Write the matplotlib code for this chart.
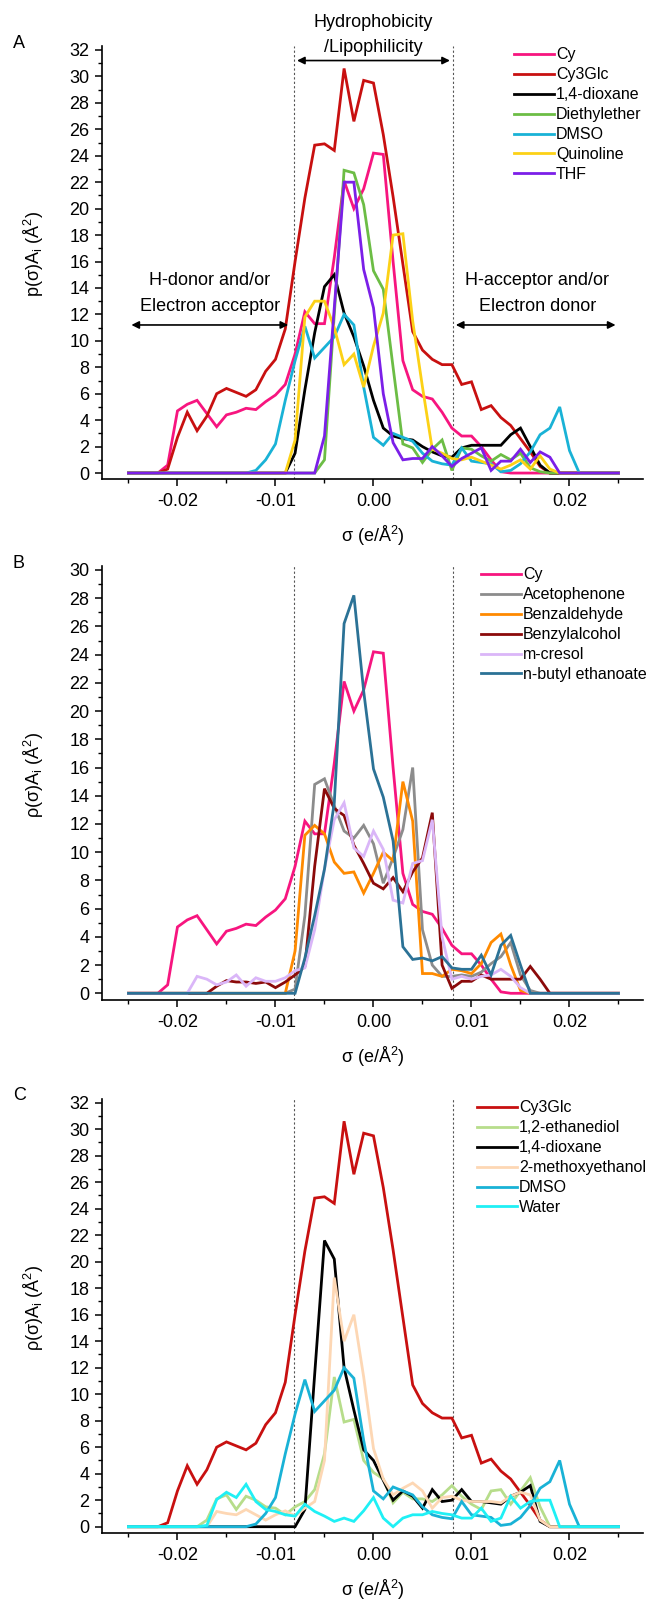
import numpy as np
import matplotlib
matplotlib.use('Agg')
import matplotlib.pyplot as plt
from matplotlib.ticker import MultipleLocator, FormatStrFormatter

plt.rcParams['font.family'] = ['Liberation Sans', 'DejaVu Sans']
plt.rcParams['axes.unicode_minus'] = False

# sigma grid, e/A^2, one point every 0.001
sigma = np.round(np.linspace(-0.025, 0.025, 51), 3)

# sigma profiles, p(sigma)*A_i in A^2
cy = [0, 0, 0, 0, 0.6, 4.7, 5.2, 5.5, 4.5, 3.5, 4.4, 4.6, 4.9, 4.8, 5.4, 5.9, 6.7, 9.0,
      12.2, 11.3, 11.3, 16.3, 22.1, 20.0, 21.5, 24.2, 24.1, 16.0, 8.5, 6.3, 5.8, 5.6, 4.6,
      3.4, 2.8, 2.8, 2.0, 1.0, 0.1, 0, 0, 0, 0, 0, 0, 0, 0, 0, 0, 0, 0]
cy3glc = [0, 0, 0, 0, 0.3, 2.7, 4.6, 3.2, 4.3, 6.0, 6.4, 6.1, 5.8, 6.3, 7.7, 8.6, 10.9,
          16.0, 20.8, 24.8, 24.9, 24.4, 30.6, 26.6, 29.7, 29.5, 25.6, 20.9, 15.8, 10.7, 9.3,
          8.6, 8.2, 8.2, 6.7, 6.9, 4.8, 5.1, 4.2, 3.6, 2.6, 1.6, 0.5, 0, 0, 0, 0, 0, 0, 0, 0]
dioxane_a = [0, 0, 0, 0, 0, 0, 0, 0, 0, 0, 0, 0, 0, 0, 0, 0, 0, 1.5, 6.3, 10.6, 14.1, 15.0,
             12.1, 10.3, 8.1, 5.5, 3.4, 2.8, 2.6, 2.5, 2.0, 1.6, 1.3, 1.2, 1.9, 2.1, 2.1,
             2.1, 2.1, 2.9, 3.4, 2.0, 0.6, 0, 0, 0, 0, 0, 0, 0, 0]
diethylether = [0, 0, 0, 0, 0, 0, 0, 0, 0, 0, 0, 0, 0, 0, 0, 0, 0, 0, 0, 0, 1.0, 12.0, 22.9,
                22.7, 20.3, 15.3, 13.9, 8.0, 2.2, 1.9, 0.8, 1.8, 2.5, 0.2, 1.9, 1.8, 1.3, 0.9,
                1.4, 1.0, 1.5, 0.4, 0.1, 0, 0, 0, 0, 0, 0, 0, 0]
dmso = [0, 0, 0, 0, 0, 0, 0, 0, 0, 0, 0, 0, 0, 0.2, 1.0, 2.2, 5.5, 8.5, 11.1, 8.7, 9.5, 10.3,
        12.0, 11.2, 6.5, 2.7, 2.1, 3.0, 2.7, 2.4, 1.5, 0.9, 0.7, 0.6, 1.9, 0.9, 0.8, 0.7, 0.1,
        0.2, 0.7, 1.6, 2.9, 3.4, 5.0, 1.7, 0, 0, 0, 0, 0]
quinoline = [0, 0, 0, 0, 0, 0, 0, 0, 0, 0, 0, 0, 0, 0, 0, 0, 0, 2.5, 11.8, 13.0, 13.0, 11.0,
             8.2, 9.0, 6.5, 9.6, 12.1, 18.0, 18.1, 11.5, 6.5, 1.8, 1.5, 1.1, 1.0, 1.2, 0.9,
             0.6, 0.3, 0.6, 1.0, 0.3, 1.3, 0.3, 0, 0, 0, 0, 0, 0, 0]
thf = [0, 0, 0, 0, 0, 0, 0, 0, 0, 0, 0, 0, 0, 0, 0, 0, 0, 0, 0, 0, 2.8, 12.5, 22.0, 22.0,
       15.4, 12.5, 6.0, 2.3, 1.0, 1.1, 1.1, 2.0, 1.3, 0.5, 1.1, 1.5, 1.9, 0.2, 0.9, 0.9, 1.8,
       0.8, 1.6, 1.2, 0, 0, 0, 0, 0, 0, 0]

acetophenone = [0, 0, 0, 0, 0, 0, 0, 0, 0, 0, 0, 0, 0, 0, 0, 0, 0, 0.3, 5.5, 14.8, 15.2,
                13.3, 11.5, 11.0, 11.9, 10.6, 7.8, 9.6, 11.6, 16.0, 4.5, 2.0, 1.2, 1.2, 1.3,
                1.2, 1.5, 2.1, 2.6, 3.6, 1.3, 0.2, 0, 0, 0, 0, 0, 0, 0, 0, 0]
benzaldehyde = [0, 0, 0, 0, 0, 0, 0, 0, 0, 0, 0, 0, 0, 0, 0, 0, 0, 3.0, 11.2, 11.9, 11.3,
                9.3, 8.5, 8.6, 7.1, 8.5, 10.0, 9.4, 15.0, 12.2, 1.4, 1.4, 1.2, 1.7, 1.6, 1.4,
                2.1, 3.6, 4.2, 2.0, 0.2, 0, 0, 0, 0, 0, 0, 0, 0, 0, 0]
benzylalcohol = [0, 0, 0, 0, 0, 0, 0, 0, 0, 0.5, 0.9, 0.8, 0.8, 0.7, 0.8, 0.4, 0.8, 1.3, 1.9,
                 9.0, 14.5, 13.1, 12.6, 10.5, 9.2, 7.8, 7.4, 8.2, 7.2, 8.6, 9.6, 12.8, 2.0,
                 0.35, 0.85, 0.85, 1.3, 1.0, 1.0, 1.0, 1.0, 1.9, 1.0, 0, 0, 0, 0, 0, 0, 0, 0]
m_cresol = [0, 0, 0, 0, 0, 0, 0, 1.2, 1.0, 0.6, 0.8, 1.3, 0.5, 1.1, 0.85, 0.85, 1.1, 1.6,
            1.8, 4.5, 8.8, 12.3, 13.5, 10.3, 9.7, 11.5, 10.2, 6.6, 6.4, 9.2, 9.4, 12.3, 4.0,
            1.0, 1.2, 1.0, 1.2, 1.3, 1.7, 1.2, 0.4, 0, 0, 0, 0, 0, 0, 0, 0, 0, 0]
butyl_ethanoate = [0, 0, 0, 0, 0, 0, 0, 0, 0, 0, 0, 0, 0, 0, 0, 0, 0, 0, 2.5, 5.5, 8.8, 13.5,
                   26.2, 28.2, 21.4, 15.9, 13.9, 10.8, 3.3, 2.4, 2.5, 2.3, 2.6, 1.8, 1.7, 1.7,
                   2.7, 1.3, 3.4, 4.1, 2.0, 0, 0, 0, 0, 0, 0, 0, 0, 0, 0]

ethanediol = [0, 0, 0, 0, 0, 0, 0, 0, 0.5, 2.1, 2.4, 1.3, 2.3, 2.0, 1.5, 1.4, 0.9, 1.5, 1.9,
              2.8, 5.5, 11.3, 7.9, 8.1, 5.0, 4.1, 3.6, 1.8, 2.6, 2.1, 2.1, 1.9, 2.4, 3.1, 2.3,
              1.7, 1.3, 2.7, 2.8, 1.7, 2.7, 3.7, 1.5, 0, 0, 0, 0, 0, 0, 0, 0]
dioxane_c = [0, 0, 0, 0, 0, 0, 0, 0, 0, 0, 0, 0, 0, 0, 0, 0, 0, 0, 1.3, 11.5, 21.6, 20.2,
             12.0, 8.8, 5.8, 5.0, 3.5, 2.0, 2.7, 2.3, 1.4, 2.8, 1.9, 2.0, 2.8, 1.9, 1.9, 1.8,
             1.7, 2.3, 2.6, 3.1, 0.4, 0, 0, 0, 0, 0, 0, 0, 0]
methoxyethanol = [0, 0, 0, 0, 0, 0, 0, 0, 0, 1.15, 1.0, 0.9, 1.3, 0.9, 0.5, 0.9, 1.2, 0.8,
                  1.4, 1.9, 5.0, 18.8, 14.0, 16.0, 11.3, 5.9, 3.6, 2.4, 2.9, 3.3, 2.7, 1.4,
                  2.2, 2.3, 2.0, 1.9, 1.9, 1.9, 1.8, 2.3, 2.6, 2.4, 0.5, 0, 0, 0, 0, 0, 0, 0, 0]
water = [0, 0, 0, 0, 0, 0, 0, 0, 0.1, 2.05, 2.6, 2.2, 3.2, 1.9, 1.3, 1.15, 0.9, 0.8, 1.7,
         1.15, 0.8, 0.4, 0.65, 0.4, 1.2, 2.2, 0.65, 0.0, 0.65, 0.9, 0.9, 1.15, 1.0, 0.9, 0.65,
         0.65, 1.4, 0.4, 0.65, 2.3, 1.4, 1.9, 2.0, 2.0, 0, 0, 0, 0, 0, 0, 0]

panel_a = [('Cy', cy, '#f7157f'), ('Cy3Glc', cy3glc, '#c81010'),
           ('1,4-dioxane', dioxane_a, '#000000'), ('Diethylether', diethylether, '#6cbd45'),
           ('DMSO', dmso, '#19b2d6'), ('Quinoline', quinoline, '#fcd116'),
           ('THF', thf, '#7b1fe8')]
panel_b = [('Cy', cy, '#f7157f'), ('Acetophenone', acetophenone, '#8c8c8c'),
           ('Benzaldehyde', benzaldehyde, '#ff8a00'), ('Benzylalcohol', benzylalcohol, '#8b0a0a'),
           ('m-cresol', m_cresol, '#dab6f8'), ('n-butyl ethanoate', butyl_ethanoate, '#2b7296')]
panel_c = [('Cy3Glc', cy3glc, '#c81010'), ('1,2-ethanediol', ethanediol, '#b7dd8b'),
           ('1,4-dioxane', dioxane_c, '#000000'), ('2-methoxyethanol', methoxyethanol, '#fdd7b4'),
           ('DMSO', dmso, '#19b2d6'), ('Water', water, '#1ff0f5')]

hb_cut = 0.0081
W, H = 649, 1603
fig = plt.figure(figsize=(W / 100, H / 100), dpi=100)


def make_panel(top_px, bottom_px, ylim, ymax_tick, series, letter, ylab, leg_x):
    ax = fig.add_axes([102 / W, 1 - bottom_px / H, 541 / W, (bottom_px - top_px) / H])
    for name, vals, col in series:
        ax.plot(sigma, vals, color=col, lw=2.0, label=name, solid_joinstyle='miter')
    for xv in (-hb_cut, hb_cut):
        ax.axvline(xv, color='#555555', lw=0.8, ls=(0, (2, 2)), zorder=0)
    ax.set_xlim(-0.0277, 0.0275)
    ax.set_ylim(*ylim)
    ax.spines['top'].set_visible(False)
    ax.spines['right'].set_visible(False)
    for s in ('left', 'bottom'):
        ax.spines[s].set_linewidth(1.2)
    ax.xaxis.set_major_locator(MultipleLocator(0.01))
    ax.xaxis.set_minor_locator(MultipleLocator(0.005))
    ax.xaxis.set_major_formatter(FormatStrFormatter('%.2f'))
    ax.set_yticks(np.arange(0, ymax_tick + 1, 2))
    ax.yaxis.set_minor_locator(MultipleLocator(1))
    ax.tick_params(which='major', length=5, width=1.1, labelsize=13, direction='out')
    ax.tick_params(which='minor', length=3, width=1.0, direction='out')
    ax.tick_params(axis='x', pad=5)
    ax.tick_params(axis='y', pad=4)
    ax.set_xlabel('σ (e/Å$^\\mathregular{2}$)', fontsize=13)
    ax.xaxis.set_label_coords(0.501, -0.104)
    ax.set_ylabel(ylab + '(σ)A$_\\mathregular{i}$ (Å$^\\mathregular{2}$)', fontsize=13)
    ax.yaxis.set_label_coords(-0.103, 0.52)
    ax.legend(loc='upper left', bbox_to_anchor=(leg_x, 0.997), frameon=False,
              fontsize=11.5, handlelength=2.5, handletextpad=0.12, labelspacing=0.31,
              borderpad=0, borderaxespad=0)
    fig.text(13 / W, 1 - (top_px - 3) / H, letter, fontsize=13, va='center', ha='left')
    return ax


ax_a = make_panel(46, 479, (-0.45, 32.3), 32, panel_a, 'A', 'p', 0.7616)
ax_b = make_panel(566, 1000, (-0.475, 30.28), 30, panel_b, 'B', 'ρ', 0.7006)
ax_c = make_panel(1099, 1533, (-0.475, 32.28), 32, panel_c, 'C', 'ρ', 0.693)

# region annotations on panel A
arrow = dict(arrowstyle='<|-|>', color='black', lw=1.2, mutation_scale=11,
             shrinkA=0, shrinkB=0)
ax_a.annotate('', xy=(-0.0078, 31.2), xytext=(0.0078, 31.2), arrowprops=arrow,
              annotation_clip=False)
ax_a.text(0, 34.1, 'Hydrophobicity', ha='center', va='center', fontsize=13, clip_on=False)
ax_a.text(0, 32.2, '/Lipophilicity', ha='center', va='center', fontsize=13, clip_on=False)
ax_a.annotate('', xy=(-0.0247, 11.2), xytext=(-0.0087, 11.2), arrowprops=arrow)
ax_a.text(-0.0167, 14.6, 'H-donor and/or', ha='center', va='center', fontsize=13)
ax_a.text(-0.0167, 12.6, 'Electron acceptor', ha='center', va='center', fontsize=13)
ax_a.annotate('', xy=(0.0084, 11.2), xytext=(0.0247, 11.2), arrowprops=arrow)
ax_a.text(0.0167, 14.6, 'H-acceptor and/or', ha='center', va='center', fontsize=13)
ax_a.text(0.0167, 12.6, 'Electron donor', ha='center', va='center', fontsize=13)

fig.savefig('out.png', dpi=100)
